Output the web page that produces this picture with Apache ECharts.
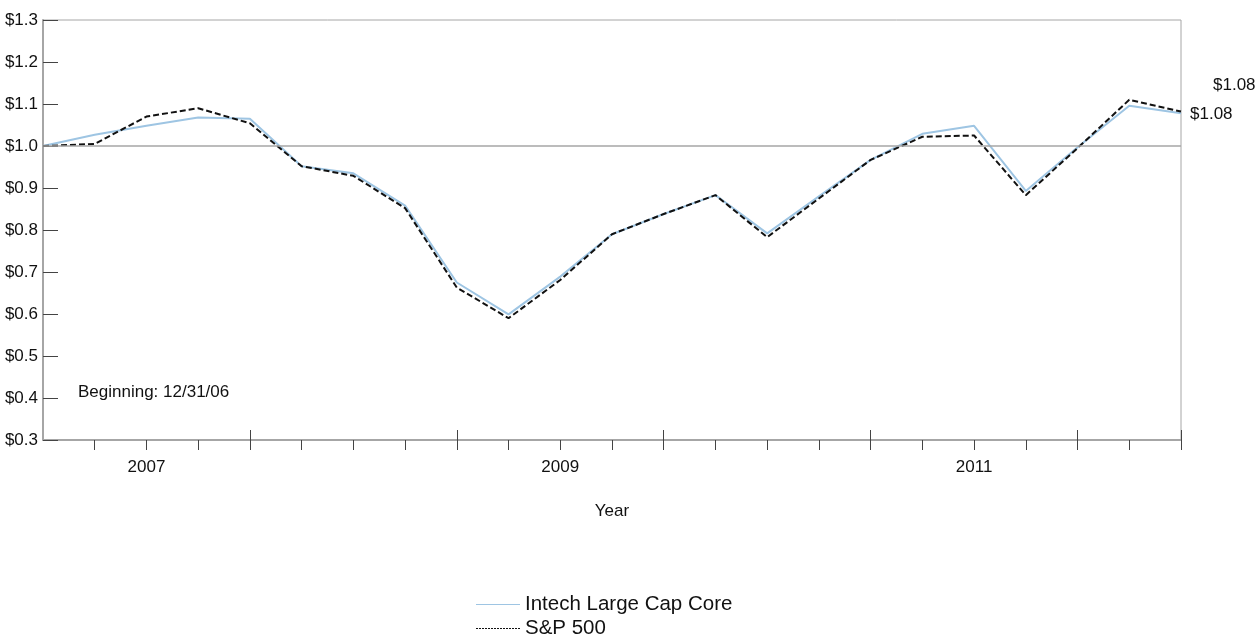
<!DOCTYPE html>
<html>
<head>
<meta charset="utf-8">
<script src="https://cdn.jsdelivr.net/npm/echarts@6/dist/echarts.min.js"></script>
<style>
html,body{margin:0;padding:0;background:#fff;}
#chart{width:1259px;height:638px;}
</style>
</head>
<body>
<div id="chart"></div>
<script>
// Quarter-end dates (x categories)
var categories = ['12/31/06','3/31/07','6/30/07','9/30/07','12/31/07','3/31/08','6/30/08','9/30/08','12/31/08',
  '3/31/09','6/30/09','9/30/09','12/31/09','3/31/10','6/30/10','9/30/10','12/31/10',
  '3/31/11','6/30/11','9/30/11','12/31/11','3/31/12','6/30/12'];
// Year tick labels shown under the axis
var yearLabels = {'6/30/07':'2007','6/30/09':'2009','6/30/11':'2011'};
// Growth of $1
var intech = [1.000,1.027,1.048,1.068,1.065,0.952,0.935,0.858,0.675,0.599,0.689,0.790,0.838,0.883,0.792,0.880,0.967,1.029,1.048,0.893,0.997,1.096,1.078];
var sp500  = [1.000,1.005,1.070,1.090,1.054,0.952,0.929,0.852,0.663,0.590,0.681,0.790,0.838,0.883,0.783,0.875,0.967,1.022,1.025,0.883,0.995,1.110,1.082];
var seriesNames = ['Intech Large Cap Core','S&P 500'];
var endValues = ['$1.08','$1.08'];
var baseline = 1.0;

var FONT = 'Liberation Sans, Arial, sans-serif';
var TXT = '#111';
var FS = 17;
var chart = echarts.init(document.getElementById('chart'));
var isMajor = function(i){ return (i % 4 === 0 && i > 0) || i === categories.length - 1; };

var dotted = 'path://';
for (var k = 0; k < 44; k += 3) { dotted += 'M' + k + ',0H' + (k + 2) + 'V1H' + k + 'Z'; }

function legendFor(idx, top, icon, color) {
  return {
    orient: 'vertical', left: 476, top: top,
    itemWidth: 44, itemHeight: 14, itemGap: 0, padding: 0,
    textStyle: {fontSize: 20.5, color: TXT, fontFamily: FONT},
    selectedMode: false,
    data: [{name: seriesNames[idx], icon: icon, itemStyle: {color: color}}]
  };
}

chart.setOption({
  animation: false,
  textStyle: {fontFamily: FONT, color: TXT},
  grid: {left: 43, right: 78, top: 20, bottom: 198, show: true, borderColor: '#a6a6a6', borderWidth: 1},
  legend: [
    legendFor(0, 594, 'path://M0,0H44V1H0Z', '#9ec5e3'),
    legendFor(1, 618, dotted, '#111')
  ],
  xAxis: [{
    type: 'category', data: categories, boundaryGap: false, position: 'bottom',
    name: 'Year', nameLocation: 'middle', nameGap: 63,
    nameTextStyle: {fontSize: FS, color: TXT},
    axisLine: {lineStyle: {color: '#a6a6a6', width: 2}},
    axisTick: {show: true, interval: function(i){ return i > 0; }, length: 10, lineStyle: {color: '#444'}},
    axisLabel: {interval: 0, margin: 19, fontSize: FS, color: TXT,
      formatter: function(v){ return yearLabels[v] || ''; }},
    splitLine: {show: false}
  }, {
    type: 'category', data: categories, boundaryGap: false, position: 'bottom',
    axisLine: {show: false},
    axisTick: {show: true, inside: true, length: 10, interval: function(i){ return isMajor(i); }, lineStyle: {color: '#444'}},
    axisLabel: {show: false}, splitLine: {show: false}
  }],
  yAxis: {
    type: 'value', min: 0.3, max: 1.3, interval: 0.1,
    axisLine: {show: true, lineStyle: {color: '#a6a6a6', width: 2}},
    axisTick: {show: true, inside: true, length: 15, lineStyle: {color: '#444'}},
    axisLabel: {fontSize: FS, color: TXT, margin: 5,
      formatter: function(v){ return '$' + v.toFixed(1); }},
    splitLine: {show: false}
  },
  graphic: [{
    type: 'text', left: 78, top: 384,
    style: {text: 'Beginning: 12/31/06', font: FS + 'px ' + FONT, fill: TXT}
  }],
  series: [{
    name: seriesNames[0], type: 'line', data: intech, symbol: 'none', z: 2,
    lineStyle: {color: '#9ec5e3', width: 2},
    itemStyle: {color: '#9ec5e3'},
    endLabel: {show: true, distance: 9, offset: [0, 1], fontSize: FS, color: TXT, fontFamily: FONT,
      formatter: function(){ return endValues[0]; }},
    markLine: {silent: true, symbol: 'none', label: {show: false},
      lineStyle: {color: '#a6a6a6', width: 1.5, type: 'solid'},
      data: [{yAxis: baseline}]}
  }, {
    name: seriesNames[1], type: 'line', data: sp500, symbol: 'none', z: 3,
    lineStyle: {color: '#111', width: 2, type: [6, 3]},
    itemStyle: {color: '#111'},
    endLabel: {show: true, distance: 9, offset: [23, -26], fontSize: FS, color: TXT, fontFamily: FONT,
      formatter: function(){ return endValues[1]; }}
  }]
});
</script>
</body>
</html>
